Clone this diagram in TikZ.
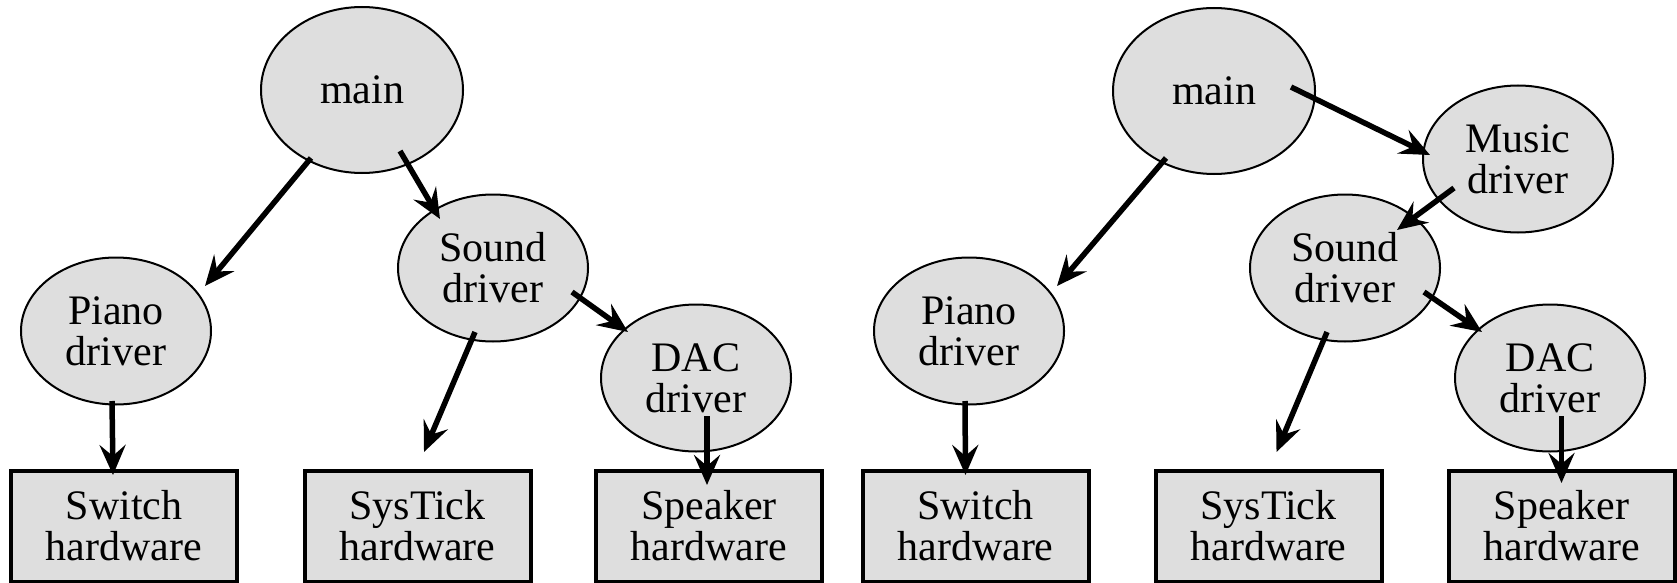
\documentclass[tikz,border=0pt]{standalone}
\usepackage{fontspec}
\setmainfont{Liberation Serif}
\usetikzlibrary{shapes.geometric,arrows.meta}
\definecolor{nodefill}{RGB}{222,222,222}
\tikzset{
  module/.style={ellipse, draw=black, line width=2pt, fill=nodefill,
    inner sep=0pt, minimum width=190pt, minimum height=147pt,
    align=center, font=\fontsize{42}{41}\selectfont},
  topmodule/.style={module, minimum width=202pt, minimum height=166pt},
  hwbox/.style={rectangle, draw=black, line width=4pt, fill=nodefill,
    inner sep=0pt, minimum width=226pt, minimum height=111pt,
    align=center, font=\fontsize{42}{41}\selectfont},
  arr/.style={line width=5.5pt, -{Stealth[length=30pt,width=26pt,inset=11pt]}}
}
\begin{document}
\begin{tikzpicture}[x=1pt,y=-1pt]
\useasboundingbox (0,0) rectangle (1677,583);

% ---- first design: main calls the sound driver directly ----
\node[topmodule] (mainL)  at (362,90)  {main};
\node[module]    (pianoL) at (116,331) {Piano\\driver};
\node[module]    (soundL) at (493,268) {Sound\\driver};
\node[module]    (dacL)   at (696,378) {DAC\\driver};
\node[hwbox] (switchL)  at (124,526) {Switch\\hardware};
\node[hwbox] (systickL) at (417.5,526) {SysTick\\hardware};
\node[hwbox] (speakerL) at (709,526) {Speaker\\hardware};

\draw[arr] ([shift={(-51,68)}]mainL.center) -- ([shift={(89,-45)}]pianoL.center);
\draw[arr] ([shift={(38,61)}]mainL.center) -- ([shift={(-53,-49)}]soundL.center);
\draw[arr] ([shift={(79,24)}]soundL.center) -- ([shift={(-68,-46)}]dacL.center);
\draw[arr] ([shift={(-18,64)}]soundL.center) -- ([shift={(6.5,-74)}]systickL.center);
\draw[arr] ([shift={(-4,70)}]pianoL.center) -- ([shift={(-11,-51)}]switchL.center);
\draw[arr] ([shift={(11,38)}]dacL.center) -- ([shift={(-2,-41)}]speakerL.center);

% ---- second design: a music driver sits between main and sound ----
\node[topmodule] (mainR)  at (1214,91)  {main};
\node[module]    (musicR) at (1518,159) {Music\\driver};
\node[module]    (pianoR) at (969,331)  {Piano\\driver};
\node[module]    (soundR) at (1345,268) {Sound\\driver};
\node[module]    (dacR)   at (1550,378) {DAC\\driver};
\node[hwbox] (switchR)  at (975.5,526)  {Switch\\hardware};
\node[hwbox] (systickR) at (1268.5,526) {SysTick\\hardware};
\node[hwbox] (speakerR) at (1561.5,526) {Speaker\\hardware};

\draw[arr] ([shift={(-48,67)}]mainR.center) -- ([shift={(88,-45)}]pianoR.center);
\draw[arr] ([shift={(77,-4)}]mainR.center) -- ([shift={(-88,-4)}]musicR.center);
\draw[arr] ([shift={(-64,29)}]musicR.center) -- ([shift={(52,-38)}]soundR.center);
\draw[arr] ([shift={(79,24)}]soundR.center) -- ([shift={(-68,-46)}]dacR.center);
\draw[arr] ([shift={(-18,64)}]soundR.center) -- ([shift={(8,-74)}]systickR.center);
\draw[arr] ([shift={(-4,70)}]pianoR.center) -- ([shift={(-10,-51)}]switchR.center);
\draw[arr] ([shift={(11.5,38)}]dacR.center) -- ([shift={(0,-43)}]speakerR.center);
\end{tikzpicture}
\end{document}
